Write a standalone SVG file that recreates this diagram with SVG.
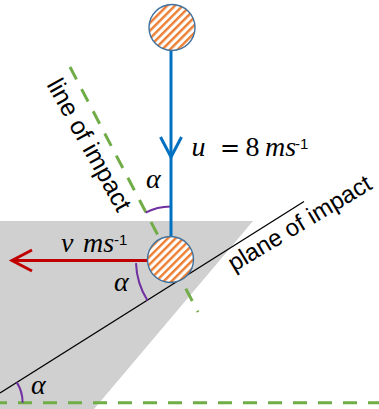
<svg xmlns="http://www.w3.org/2000/svg" width="379" height="409" viewBox="0 0 379 409">
  <style>
    .green { fill: none; stroke: #70ad47; stroke-width: 3; stroke-dasharray: 14 11; }
    .plane { fill: none; stroke: #000; stroke-width: 1.3; }
    .angle { fill: none; stroke: #7030a0; stroke-width: 2; }
    .ball { fill: url(#hatch); stroke: #41719c; stroke-width: 1.4; }
    .lbl { font-family: "Liberation Sans", Arial, sans-serif; font-size: 25px; fill: #000; }
    .math { font-family: "Liberation Serif", "Times New Roman", serif; font-size: 28px; fill: #000; }
    .it { font-style: italic; }
    .eq { font-family: "DejaVu Serif", serif; font-size: 24px; }
    .sup { font-family: "Liberation Sans", Arial, sans-serif; font-size: 15px; }
  </style>
  <defs>
    <pattern id="hatch" patternUnits="userSpaceOnUse" width="5.5" height="10" patternTransform="rotate(45)">
      <rect width="5.5" height="10" fill="#fff"/>
      <rect width="2.4" height="10" fill="#ed7d31"/>
    </pattern>
    <marker id="chevBlue" viewBox="0 0 22 22" markerUnits="userSpaceOnUse" markerWidth="22" markerHeight="22" refX="20" refY="11" orient="auto" overflow="visible">
      <path d="M0,0.5 L20,11 L0,21.5" fill="none" stroke="#0070c0" stroke-width="3"/>
    </marker>
    <marker id="chevRed" viewBox="0 0 22 22" markerUnits="userSpaceOnUse" markerWidth="22" markerHeight="22" refX="20" refY="11" orient="auto" overflow="visible">
      <path d="M0,0.5 L20,11 L0,21.5" fill="none" stroke="#c00000" stroke-width="3"/>
    </marker>
  </defs>

  <g id="surface">
    <polygon points="0,221 253,221 94,409 0,409" fill="#d0d0d0"/>
  </g>

  <g id="connectors">
    <line class="green" x1="0" y1="402.7" x2="379" y2="402.7" stroke-dashoffset="7"/>
    <line class="plane" x1="0" y1="393" x2="304" y2="201.5"/>
    <line class="green" x1="70" y1="67" x2="198" y2="312"/>
    <path class="angle" d="M170.5,206.5 A53,53 0 0 0 145.6,212.7"/>
    <path class="angle" d="M136,263.1 A75,75 0 0 0 147.5,300.5"/>
    <path class="angle" d="M22.6,402.7 A38,38 0 0 0 16.8,382.4"/>
    <path d="M171,50.5 L171,157 L171,236.5" fill="none" stroke="#0070c0" stroke-width="3" marker-mid="url(#chevBlue)"/>
    <line x1="147.5" y1="260.5" x2="12" y2="260.5" stroke="#c00000" stroke-width="3" marker-end="url(#chevRed)"/>
  </g>

  <g id="ball-top">
    <circle class="ball" cx="172" cy="27.5" r="23"/>
  </g>
  <g id="ball-impact">
    <circle class="ball" cx="170.5" cy="259.5" r="23"/>
  </g>

  <g id="labels">
    <text class="lbl" text-anchor="middle" transform="translate(82,149) rotate(61)">line of impact</text>
    <text class="lbl" style="font-size:24px" transform="translate(234,272) rotate(-31)">plane of impact</text>
    <text class="math" y="155.5"><tspan class="it" x="191.5">u</tspan><tspan class="eq" x="230" text-anchor="middle">=</tspan><tspan x="252.5" text-anchor="middle">8</tspan><tspan class="it" x="265">ms</tspan><tspan class="sup" x="295" y="149">-1</tspan></text>
    <text class="math" y="252"><tspan class="it" x="61">v</tspan><tspan class="it" x="83">ms</tspan><tspan class="sup" x="114" y="245">-1</tspan></text>
    <text class="math it" x="146" y="188">α</text>
    <text class="math it" x="114" y="291">α</text>
    <text class="math it" x="31" y="394">α</text>
  </g>
</svg>
